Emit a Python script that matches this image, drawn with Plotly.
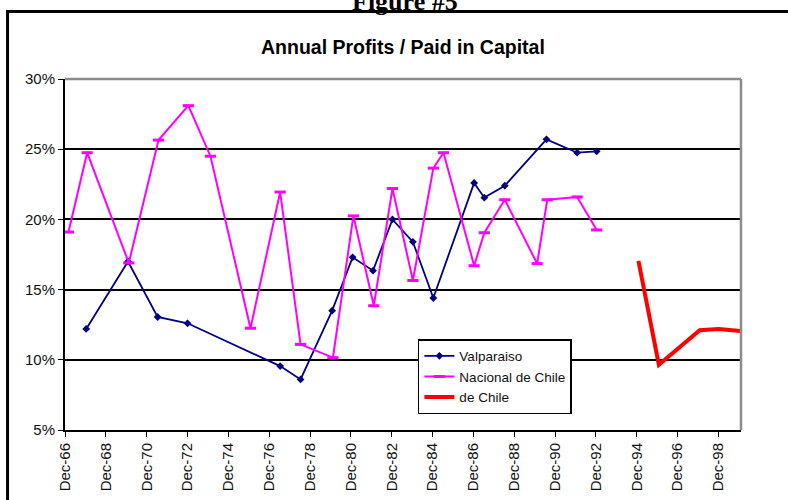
"""
Figure #5 - Annual profits over paid-in capital, Chilean banks.
"""

import plotly.graph_objects as go

# --- data -----------------------------------------------------------------
valparaiso_dates = [
    "1967-12-15", "1970-01-01", "1971-06-15", "1972-12-01", "1977-06-15",
    "1978-06-15", "1980-01-01", "1981-01-01", "1982-01-01", "1982-12-15",
    "1983-12-15", "1984-12-15", "1986-12-15", "1987-06-15", "1988-06-15",
    "1990-07-01", "1992-01-01", "1992-12-15",
]
valparaiso = [
    12.2, 17.0, 13.05, 12.6, 9.55,
    8.6, 13.5, 17.3, 16.35, 20.0,
    18.4, 14.4, 22.6, 21.55, 22.4,
    25.7, 24.75, 24.85,
]

nacional_dates = [
    "1967-02-01", "1968-01-01", "1970-01-15", "1971-07-01", "1972-12-15",
    "1974-01-15", "1976-01-01", "1977-06-15", "1978-06-15", "1980-01-15",
    "1981-01-15", "1982-01-15", "1982-12-15", "1983-12-15", "1984-12-15",
    "1985-06-15", "1986-12-15", "1987-06-15", "1988-06-15", "1990-01-15",
    "1990-07-15", "1992-01-01", "1992-12-15",
]
nacional = [
    19.1, 24.75, 16.9, 25.65, 28.1,
    24.5, 12.25, 21.95, 11.1, 10.15,
    20.25, 13.85, 22.2, 15.65, 23.65,
    24.75, 16.7, 19.05, 21.4, 16.85,
    21.4, 21.6, 19.25,
]

dechile_dates = ["1995-01-01", "1996-01-01", "1998-01-01", "1998-12-01", "2000-01-01"]
dechile = [17.05, 9.65, 12.1, 12.2, 12.05]

tick_dates = [f"{y}-12-01" for y in range(1966, 1999, 2)]
tick_labels = [f"Dec-{y % 100:02d}" for y in range(1966, 1999, 2)]

# --- figure ---------------------------------------------------------------
fig = go.Figure()
fig.add_trace(
    go.Scatter(
        x=valparaiso_dates,
        y=valparaiso,
        mode="lines+markers",
        name="Valparaiso",
        line=dict(color="#000080", width=1.8),
        marker=dict(symbol="diamond", size=6, color="#000080"),
    )
)
fig.add_trace(
    go.Scatter(
        x=nacional_dates,
        y=nacional,
        mode="lines+markers",
        name="Nacional de Chile",
        line=dict(color="#FF00FF", width=2),
        marker=dict(symbol="line-ew", size=8, line=dict(color="#FF00FF", width=3)),
    )
)
fig.add_trace(
    go.Scatter(
        x=dechile_dates,
        y=dechile,
        mode="lines",
        name="de Chile",
        line=dict(color="#FF0000", width=4),
    )
)

# plot area spans x 65..741, y 79..430 px
fig.update_layout(
    width=788,
    height=500,
    margin=dict(l=65, r=47, t=79, b=70),
    paper_bgcolor="white",
    plot_bgcolor="white",
    font=dict(family="Liberation Sans, Arial", size=15, color="#111111"),
    showlegend=True,
    legend=dict(
        x=0.522,
        y=0.259,
        xanchor="left",
        yanchor="top",
        bgcolor="white",
        bordercolor="black",
        borderwidth=1.5,
        font=dict(size=13.5, color="#111111"),
        tracegroupgap=0,
        itemwidth=30,
    ),
    xaxis=dict(
        type="date",
        range=["1966-12-01", "2000-01-10"],
        tickmode="array",
        tickvals=tick_dates,
        ticktext=tick_labels,
        tickangle=-90,
        ticks="outside",
        ticklen=5,
        tickcolor="black",
        showline=True,
        linecolor="black",
        linewidth=2,
        showgrid=False,
        zeroline=False,
        automargin=False,
        tickfont=dict(size=15),
    ),
    yaxis=dict(
        range=[5, 30],
        dtick=5,
        ticksuffix="%",
        ticks="outside",
        ticklen=5,
        tickcolor="black",
        showline=True,
        linecolor="black",
        linewidth=2,
        showgrid=True,
        gridcolor="black",
        gridwidth=1.5,
        zeroline=False,
        automargin=False,
        tickfont=dict(size=15),
    ),
    shapes=[
        # grey frame on top / right of plot area
        dict(type="line", xref="paper", yref="paper", x0=0, x1=1, y0=1, y1=1,
             line=dict(color="#8c8c8c", width=2.5), layer="above"),
        dict(type="line", xref="paper", yref="paper", x0=1, x1=1, y0=0, y1=1,
             line=dict(color="#8c8c8c", width=2.5), layer="above"),
        # chart border
        dict(type="rect", xref="paper", yref="paper",
             x0=-0.085, x1=1.1, y0=-0.25, y1=1.192,
             line=dict(color="black", width=3)),
    ],
    annotations=[
        dict(text="<b>Annual Profits / Paid in Capital</b>", xref="paper", yref="paper",
             x=0.5, y=1.091, xanchor="center", yanchor="middle", showarrow=False,
             font=dict(size=19.5, family="Liberation Sans, Arial", color="black")),
        dict(text="<b>Figure #5</b>", xref="paper", yref="paper",
             x=0.503, y=1.222, xanchor="center", yanchor="middle", showarrow=False,
             font=dict(size=26, family="Liberation Serif, Times New Roman", color="black")),
    ],
)

# drop the page's default body margin so the chart sits at the window corner
fig.write_html(
    "out.html",
    config={"displayModeBar": False},
    post_script="document.body.style.margin='0';",
)
